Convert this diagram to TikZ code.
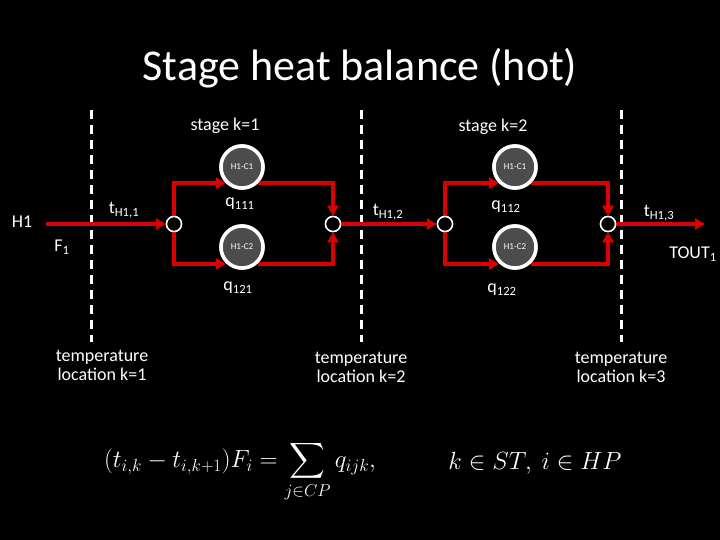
\documentclass[tikz,border=0pt]{standalone}
\usepackage{exscale}
\usepackage{fontspec}
\setmainfont{Carlito}
\usetikzlibrary{arrows.meta}
\begin{document}
\begin{tikzpicture}[x=1pt,y=-1pt,
  stream/.style={draw=red!85!black,line width=4pt,-{Triangle[length=10pt,width=11pt]}},
  hx/.style={circle,draw=white,line width=3.5pt,fill=black!70,minimum size=42pt,inner sep=0pt,text=white,font=\fontsize{9}{9}\selectfont},
  mix/.style={circle,draw=white,line width=1.5pt,fill=black,minimum size=15pt,inner sep=0pt},
  lbl/.style={text=white,font=\fontsize{18}{19}\selectfont},
  sep/.style={draw=white,line width=3pt,dash pattern=on 9pt off 6pt}]
\fill[black] (0,0) rectangle (720,540);
\useasboundingbox (0,0) rectangle (720,540);
\node[text=white,font=\fontsize{44}{46}\selectfont] (title) at (360,68) {Stage heat balance (hot)};
\coordinate (d1a) at (91,110); \coordinate (d1b) at (91,342);
\coordinate (d2a) at (361,110); \coordinate (d2b) at (361,342);
\coordinate (d3a) at (621,110); \coordinate (d3b) at (621,342);
\draw[sep] (d1a)--(d1b); \draw[sep] (d2a)--(d2b); \draw[sep] (d3a)--(d3b);
\node[lbl] (s1) at (225,126) {stage k=1};
\node[lbl] (s2) at (493,127) {stage k=2};
\node[lbl] (h1) at (22,222) {H1};
\node[lbl] (f1) at (62,247) {F\textsubscript{1}};
\coordinate (in) at (46,224);
\node[mix] (m1) at (174,224) {};
\node[mix] (p1) at (333,224) {};
\node[mix] (m2) at (445,224) {};
\node[mix] (p2) at (608,224) {};
\coordinate (out) at (705,224);
\node[hx] (a1) at (242,167) {H1-C1};
\node[hx] (b1) at (242,247) {H1-C2};
\node[hx] (a2) at (515,167) {H1-C1};
\node[hx] (b2) at (515,247) {H1-C2};
\draw[stream] (in) -- (m1);
\draw[stream] (m1.north) |- (a1.south west|-0,183) ;
\draw[stream] (m1.south) |- (b1.south west|-0,264);
\draw[stream] (a1.south east|-0,183) -| (p1.north);
\draw[stream] (b1.south east|-0,264) -| (p1.south);
\draw[stream] (p1) -- (m2);
\draw[stream] (m2.north) |- (a2.south west|-0,183);
\draw[stream] (m2.south) |- (b2.south west|-0,264);
\draw[stream] (a2.south east|-0,183) -| (p2.north);
\draw[stream] (b2.south east|-0,264) -| (p2.south);
\draw[stream] (p2) -- (out);
\node[mix] at (m1) {}; \node[mix] at (p1) {}; \node[mix] at (m2) {}; \node[mix] at (p2) {};
\node[hx] at (a1) {H1-C1}; \node[hx] at (b1) {H1-C2}; \node[hx] at (a2) {H1-C1}; \node[hx] at (b2) {H1-C2};
\node[lbl] (t1) at (124,210) {t\textsubscript{H1,1}};
\node[lbl] (t2) at (388,212) {t\textsubscript{H1,2}};
\node[lbl] (t3) at (659,213) {t\textsubscript{H1,3}};
\node[lbl] (tout) at (693,254) {TOUT\textsubscript{1}};
\node[lbl] (q111) at (240,204) {q\textsubscript{111}};
\node[lbl] (q121) at (238,288) {q\textsubscript{121}};
\node[lbl] (q112) at (506,207) {q\textsubscript{112}};
\node[lbl] (q122) at (502,290) {q\textsubscript{122}};
\node[lbl,align=center] (l1) at (102,365) {temperature\\location k=1};
\node[lbl,align=center] (l2) at (361,367) {temperature\\location k=2};
\node[lbl,align=center] (l3) at (621,367) {temperature\\location k=3};
\node[text=white,font=\fontsize{25}{27}\selectfont] (eq) at (240,472) {$\displaystyle (t_{i,k}-t_{i,k+1})F_i=\sum_{j\in CP} q_{ijk},$};
\node[text=white,font=\fontsize{25}{27}\selectfont] (eq2) at (535,463) {$k\in ST,\ i\in HP$};
\end{tikzpicture}
\end{document}
